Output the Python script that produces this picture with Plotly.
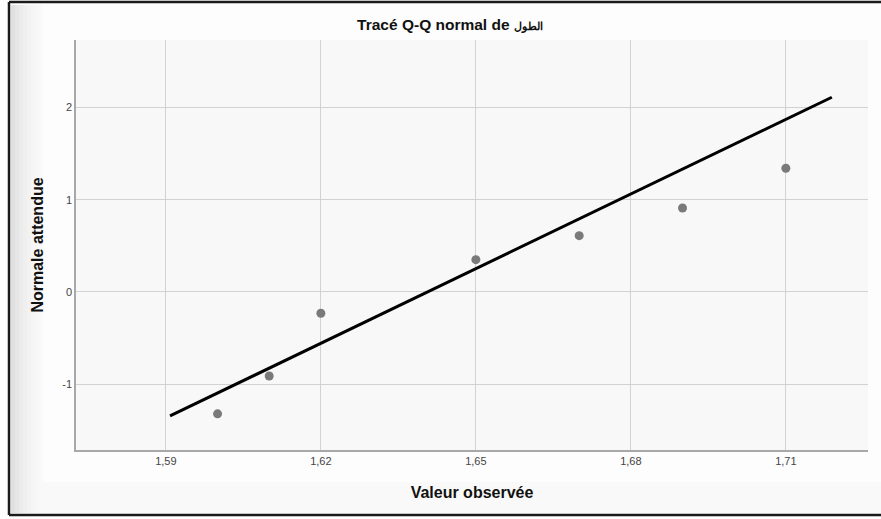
import plotly.graph_objects as go

# Data
observed = [1.60, 1.61, 1.62, 1.65, 1.67, 1.69, 1.71]
expected_normal = [-1.32, -0.91, -0.23, 0.35, 0.61, 0.91, 1.34]
line_x = [1.5908, 1.7189]
line_y = [-1.343, 2.11]
x_tickvals = [1.59, 1.62, 1.65, 1.68, 1.71]
x_ticktext = ["1,59", "1,62", "1,65", "1,68", "1,71"]
y_tickvals = [-1, 0, 1, 2]
y_ticktext = ["-1", "0", "1", "2"]

title_text = "Tracé Q-Q normal de <span style='font-size:11px'>الطول</span>"
x_title = "Valeur observée"
y_title = "Normale attendue"

W, H = 881, 519
L, R, T, B = 76, 868, 40, 450
PW, PH = R - L, B - T


def px(x):
    return (x - L) / PW


def py(y):
    return (B - y) / PH


fig = go.Figure()

fig.add_trace(go.Scatter(
    x=line_x, y=line_y, mode="lines",
    line=dict(color="#000000", width=3),
    hoverinfo="skip", showlegend=False,
))
fig.add_trace(go.Scatter(
    x=observed, y=expected_normal, mode="markers",
    marker=dict(color="#7a7a7a", size=9, line=dict(width=0)),
    showlegend=False,
))

shapes = []
# bottom bevel strip
shapes.append(dict(type="rect", xref="paper", yref="paper",
                   x0=px(10), x1=px(881), y0=py(513), y1=py(482),
                   fillcolor="#f9f9f9", line=dict(width=0), layer="below"))
# left bevel gradient
grays = ["#e0e0e0", "#e6e6e6", "#ebebeb", "#efefef", "#f2f2f2", "#f5f5f5", "#f7f7f7", "#f9f9f9"]
for i, g in enumerate(grays):
    x0 = 11 + i * 4
    shapes.append(dict(type="rect", xref="paper", yref="paper",
                       x0=px(x0), x1=px(x0 + 4), y0=py(513), y1=py(5),
                       fillcolor=g, line=dict(width=0), layer="below"))
# outer frame lines
shapes.append(dict(type="line", xref="paper", yref="paper",
                   x0=px(9), x1=px(9), y0=py(515), y1=py(2),
                   line=dict(color="#1a1a1a", width=2.5)))
shapes.append(dict(type="line", xref="paper", yref="paper",
                   x0=px(9), x1=px(881), y0=py(2), y1=py(2),
                   line=dict(color="#1a1a1a", width=2.5)))
shapes.append(dict(type="line", xref="paper", yref="paper",
                   x0=px(9), x1=px(881), y0=py(515), y1=py(515),
                   line=dict(color="#1a1a1a", width=2.5)))

fig.update_layout(
    width=W, height=H,
    margin=dict(l=L, r=W - R, t=T, b=H - B, autoexpand=False),
    paper_bgcolor="#fdfdfd",
    plot_bgcolor="#f8f8f8",
    separators=", ",
    font=dict(family="Liberation Sans, Arial, sans-serif", color="#333333"),
    title=dict(text="<b>" + title_text + "</b>", x=450 / W, xanchor="center",
               y=1 - 25 / H, yanchor="middle",
               font=dict(size=15.5, color="#111111")),
    shapes=shapes,
    xaxis=dict(
        range=[1.5726, 1.7259], tickvals=x_tickvals, ticktext=x_ticktext,
        showgrid=True, gridcolor="#d2d2d2", gridwidth=1.3,
        showline=True, linecolor="#a8a8a8", linewidth=1.5,
        zeroline=False, ticks="", tickfont=dict(size=11, color="#444444"),
        title=dict(text="<b>" + x_title + "</b>", font=dict(size=16, color="#111111"),
                   standoff=21),
    ),
    yaxis=dict(
        range=[-1.712, 2.730], tickvals=y_tickvals, ticktext=y_ticktext,
        showgrid=True, gridcolor="#d2d2d2", gridwidth=1.3,
        showline=True, linecolor="#a8a8a8", linewidth=1.5,
        zeroline=False, ticks="", tickfont=dict(size=11, color="#444444"),
        title=dict(text="<b>" + y_title + "</b>", font=dict(size=16, color="#111111"),
                   standoff=15),
    ),
)

fig.write_html("out.html", config={"displayModeBar": False},
               post_script="document.body.style.margin='0px';")
